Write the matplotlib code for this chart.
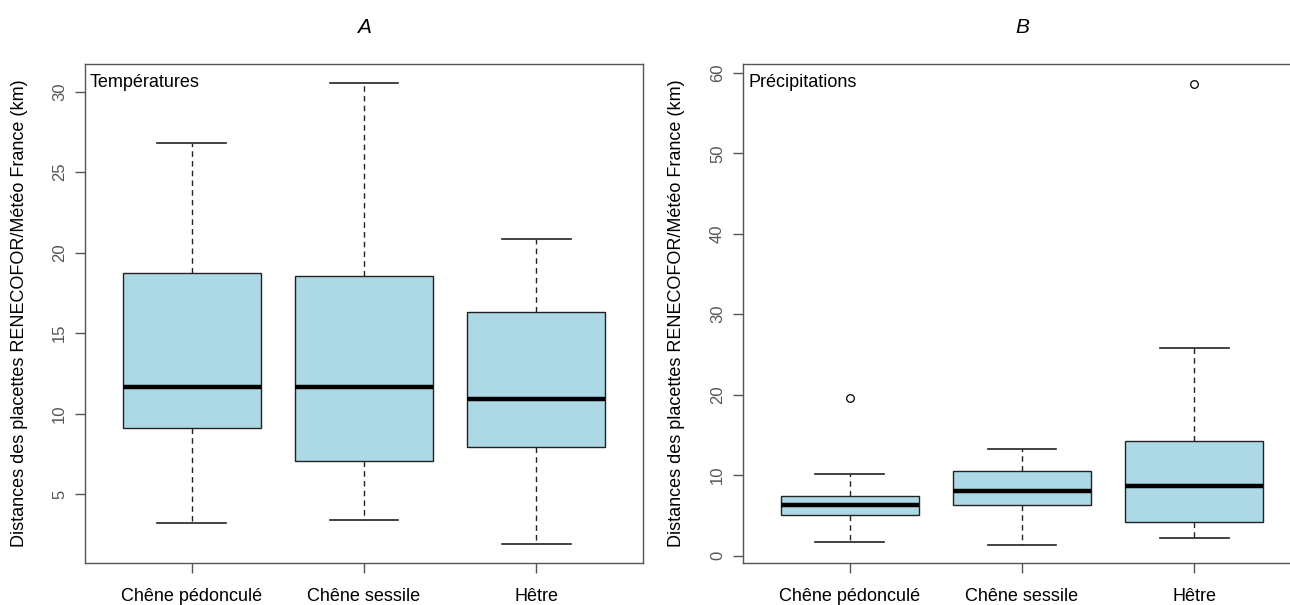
import matplotlib.pyplot as plt
import matplotlib as mpl

# ---- Data ----
species = ["Chêne pédonculé", "Chêne sessile", "Hêtre"]

# Panel A: temperatures
temp_whislo = [3.18, 3.38, 1.89]
temp_q1 = [9.10, 7.07, 7.92]
temp_med = [11.67, 11.67, 10.91]
temp_q3 = [18.74, 18.56, 16.30]
temp_whishi = [26.83, 30.52, 20.84]
temp_fliers = [[], [], []]

# Panel B: precipitations
prec_whislo = [1.70, 1.29, 2.20]
prec_q1 = [5.07, 6.35, 4.16]
prec_med = [6.35, 8.07, 8.60]
prec_q3 = [7.40, 10.47, 14.30]
prec_whishi = [10.10, 13.27, 25.76]
prec_fliers = [[19.64], [], [58.66]]

temp_ticks = [5, 10, 15, 20, 25, 30]
prec_ticks = [0, 10, 20, 30, 40, 50, 60]

ylabel = "Distances des placettes RENECOFOR/Météo France (km)"

# ---- Style ----
mpl.rcParams.update({
    "font.family": ["Liberation Sans", "DejaVu Sans"],
    "font.size": 13,
    "axes.linewidth": 1.0,
    "axes.edgecolor": "#555555",
})

W, H = 1290, 605
fig = plt.figure(figsize=(W / 100, H / 100), dpi=100)
ax_a = fig.add_axes([85 / W, 42 / H, 558 / W, 499 / H])
ax_b = fig.add_axes([743 / W, 42 / H, 558 / W, 499 / H])


def make_stats(lo, q1, med, q3, hi, fl):
    return [dict(whislo=a, q1=b, med=c, q3=d, whishi=e, fliers=f)
            for a, b, c, d, e, f in zip(lo, q1, med, q3, hi, fl)]


def draw(ax, stats, ticks, ylim, title, inner, ylab_x):
    ax.bxp(stats, positions=[1, 2, 3], widths=0.8, capwidths=0.4,
           patch_artist=True, showfliers=True,
           boxprops=dict(facecolor="#add8e6", edgecolor="#222222", linewidth=1.0),
           whiskerprops=dict(color="#222222", linestyle=(0, (4, 3)), linewidth=1.0),
           capprops=dict(color="#222222", linewidth=1.2),
           medianprops=dict(color="black", linewidth=3.2, solid_capstyle="butt"),
           flierprops=dict(marker="o", markerfacecolor="none",
                           markeredgecolor="black", markersize=5.5,
                           markeredgewidth=0.9))
    ax.set_xlim(0.38, 3.62)
    ax.set_ylim(*ylim)
    ax.set_xticks([1, 2, 3])
    ax.set_xticklabels(species, fontsize=13)
    ax.set_yticks(ticks)
    ax.set_yticklabels([str(t) for t in ticks], rotation=90, va="center",
                       fontsize=12, color="#555555")
    ax.tick_params(axis="y", length=7, width=1.0, color="#555555", pad=6)
    ax.tick_params(axis="x", length=7, width=1.0, color="#555555", pad=11)
    ax.set_ylabel(ylabel, fontsize=13)
    ax.yaxis.set_label_coords(ylab_x, 0.5)
    ax.text(0.5, 1.074, title, transform=ax.transAxes, ha="center",
            va="center", fontsize=15, style="italic")
    ax.text(0.009, 0.962, inner, transform=ax.transAxes, ha="left",
            va="center", fontsize=13)


draw(ax_a, make_stats(temp_whislo, temp_q1, temp_med, temp_q3, temp_whishi, temp_fliers),
     temp_ticks, (0.72, 31.72), "A", "Températures", -0.102)
draw(ax_b, make_stats(prec_whislo, prec_q1, prec_med, prec_q3, prec_whishi, prec_fliers),
     prec_ticks, (-0.92, 61.1), "B", "Précipitations", -0.104)

fig.savefig("out.png", dpi=100, facecolor="white")
